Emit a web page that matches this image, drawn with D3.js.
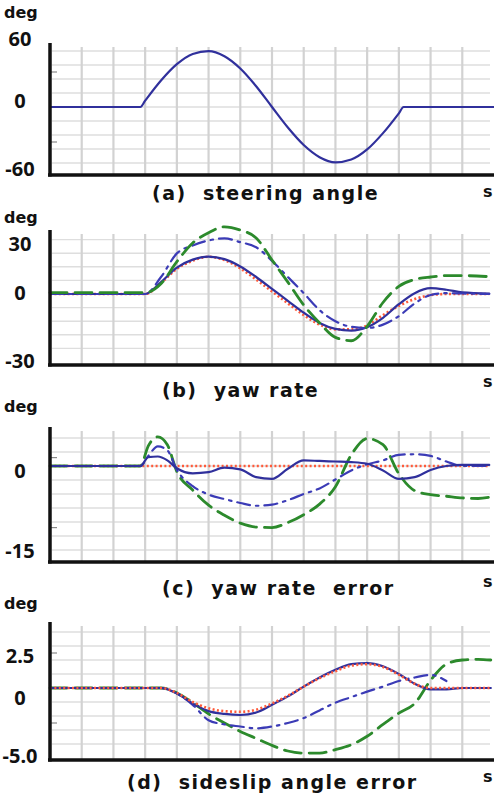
<!DOCTYPE html>
<html>
<head>
<meta charset="utf-8">
<script src="https://cdn.jsdelivr.net/npm/d3@7"></script>
<style>
  body { margin: 0; background: #fff; }
  svg { display: block; font-family: "DejaVu Sans", "Noto Sans", sans-serif; font-weight: bold; }
</style>
</head>
<body>
<svg id="chart" width="494" height="794"></svg>
<script>
// time grid (s), same for all four panels
var timeGrid = [1, 2, 3, 4, 5, 6, 7, 8, 9, 10, 11, 12, 13];

// (a) steering angle, deg
var steerTime = [0, 2.85, 3, 3.5, 4, 4.5, 5, 5.5, 6, 6.5, 7, 7.5, 8, 8.5, 9, 9.5, 10, 10.5, 11, 11.15, 14];
var steerAngle = [0, 0, 5.4, 22.7, 36.7, 45.5, 47.9, 43.5, 33, 17.8, 0, -17.6, -32.6, -43, -47.4, -45, -36.4, -22.4, -5.4, 0, 0];

// (b) yaw rate, deg/s
var yawTime = [0, 3, 3.5, 4, 4.5, 5, 5.5, 6, 6.5, 7, 7.5, 8, 8.5, 9, 9.5, 10, 10.5, 11, 11.5, 12, 12.5, 13, 13.85];
var yawRef = [0, 0, 6.5, 14.8, 19.6, 21.9, 20, 15.1, 8.5, 1.5, -5.5, -12.4, -18, -20.8, -20.8, -18.5, -12.4, -7, -3, -0.7, 0, 0, 0];
var yawSolid = [0, 0, 7, 15.5, 20.2, 22, 20.5, 16.2, 10, 3, -4, -11, -17, -20.5, -21.5, -19.5, -14, -6, 0.5, 3.4, 2.5, 1, 0.3];
var yawDashDot = [0, 0, 10, 23.9, 28.5, 31.5, 32.7, 30.5, 27.5, 19.5, 10, 0.5, -9.5, -16, -19.3, -20, -18, -13, -5.5, -0.6, 0.5, 0.3, 0];
var yawDashed = [0.8, 0.8, 6, 19, 30, 36, 39.5, 37.6, 33, 20, 7, -6.5, -17, -25.5, -27.5, -19, -5, 4.5, 8.5, 10, 10.8, 10.8, 10.2];

// (c) yaw rate error, deg/s
var errTime = [0, 2.85, 3.1, 3.4, 3.7, 4, 4.5, 5, 5.5, 6, 6.5, 7, 7.5, 8, 8.5, 9, 9.5, 10, 10.5, 11, 11.5, 12, 12.5, 13, 13.5, 13.85];
var errRef = [0, 0, 0, 0, 0, 0, 0, 0, 0, 0, 0, 0, 0, 0, 0, 0, 0, 0, 0, 0, 0, 0, 0, 0, 0, 0];
var errSolid = [0, 0, 1.6, 1.7, 1.0, -0.4, -1.3, -1.1, -0.3, -0.6, -2.0, -2.3, -0.5, 1.0, 0.9, 0.8, 0.7, 0.4, -0.8, -2.3, -2.0, -0.7, 0, 0.2, 0.2, 0.2];
var errDashDot = [0, 0, 1.8, 3.5, 2.8, -0.7, -3.6, -5.1, -5.9, -6.6, -7.1, -6.9, -6.1, -5.0, -4.0, -2.4, -0.8, 0.3, 1.0, 2.0, 2.1, 1.8, 0.8, 0, 0, 0];
var errDashed = [0, 0, 3.6, 5.2, 3.8, -1.0, -4.3, -7.0, -8.8, -10.2, -10.9, -11.0, -10.1, -8.7, -6.8, -3.7, 2.0, 4.9, 3.8, -1.4, -4.4, -5.1, -5.4, -5.7, -5.8, -5.6];

// (d) sideslip angle error, deg
var slipTime = [0, 3.5, 4, 4.5, 5, 5.5, 6, 6.5, 7, 7.5, 8, 8.5, 9, 9.5, 10, 10.5, 11, 11.5, 12, 12.5, 13, 13.5, 13.9];
var slipRef = [0, 0, -0.35, -1.0, -1.45, -1.65, -1.7, -1.55, -1.1, -0.55, 0.1, 0.7, 1.2, 1.6, 1.7, 1.5, 0.95, 0.3, 0, 0, 0, 0, 0];
var slipSolid = [0, 0, -0.4, -1.1, -1.65, -1.85, -1.93, -1.75, -1.2, -0.6, 0.1, 0.75, 1.3, 1.7, 1.78, 1.55, 1.0, 0.3, -0.1, -0.1, 0, 0, 0];
var slipDashDot = [0, 0, -0.4, -1.2, -2.3, -2.6, -2.75, -2.88, -2.75, -2.5, -2.15, -1.6, -1.05, -0.65, -0.26, 0.1, 0.5, 0.75, 0.93, 0.5, null, null, null];
var slipDashed = [0, 0, -0.35, -1.05, -1.85, -2.5, -3.1, -3.6, -4.1, -4.5, -4.65, -4.65, -4.4, -4.05, -3.45, -2.6, -1.8, -1.1, 0.55, 1.7, 2.0, 2.05, 2.0];

// y tick labels
var ticksA = [60, 0, -60], labelsA = ["60", "0", "-60"];
var ticksB = [30, 0, -30], labelsB = ["30", "0", "-30"];
var ticksC = [0, -15], labelsC = ["0", "-15"];
var ticksD = [2.5, 0, -5], labelsD = ["2.5", "0", "-5.0"];

var lineStyles = {
  ref:     { color: "#ff5a3a", width: 2.6, dash: "2,2.4" },
  solid:   { color: "#30309c", width: 2.2, dash: null },
  dashdot: { color: "#3b3bb6", width: 2.2, dash: "13,6,2.5,6" },
  dashed:  { color: "#2c8a2c", width: 2.8, dash: "17,8" }
};

var panels = [
  { top: 43, bottom: 175, domain: [-60, 60], range: [177, 37], grid: 12, minor: [30, -30],
    ticks: ticksA, labels: labelsA, shift: [1, -7, -9], degY: 18, sY: 197,
    caption: "(a)  steering angle", capX: 152, capY: 200,
    time: steerTime, series: [[steerAngle, "solid"]] },
  { top: 230, bottom: 365, domain: [-30, 30], range: [345, 243], grid: 8, minor: [],
    ticks: ticksB, labels: labelsB, shift: [0, -2, 15], degY: 223, sY: 387,
    caption: "(b)  yaw rate", capX: 162, capY: 397,
    time: yawTime, series: [[yawRef, "ref"], [yawSolid, "solid"], [yawDashDot, "dashdot"], [yawDashed, "dashed"]] },
  { top: 427, bottom: 562, domain: [-15, 0], range: [550, 466], grid: 2.5, minor: [1.5, -11],
    ticks: ticksC, labels: labelsC, shift: [4, 0], degY: 412, sY: 587,
    caption: "(c)  yaw rate  error", capX: 162, capY: 595,
    time: errTime, series: [[errRef, "ref"], [errDashed, "dashed"], [errDashDot, "dashdot"], [errSolid, "solid"]] },
  { top: 622, bottom: 760, domain: [-5, 2.5], range: [758, 653], grid: 1, minor: [2.5, -2.5],
    ticks: ticksD, labels: labelsD, shift: [2, 9, -3], degY: 609, sY: 782,
    caption: "(d)  sideslip angle error", capX: 127, capY: 789,
    time: slipTime, series: [[slipDashed, "dashed"], [slipDashDot, "dashdot"], [slipSolid, "solid"], [slipRef, "ref"]] }
];

var svg = d3.select("#chart");
var xScale = d3.scaleLinear().domain([0, 14]).range([50, 494]);

panels.forEach(function(p) {
  var yScale = d3.scaleLinear().domain(p.domain).range(p.range);
  var g = svg.append("g");

  // horizontal grid
  var vLo = yScale.invert(p.bottom - 4), vHi = yScale.invert(p.top + 4);
  var hLines = d3.range(Math.ceil(vLo / p.grid) * p.grid, vHi, p.grid);
  g.selectAll(".hgrid").data(hLines).enter().append("line")
    .attr("x1", 52).attr("x2", 490)
    .attr("y1", d => yScale(d)).attr("y2", d => yScale(d))
    .attr("stroke", "#dedede").attr("stroke-width", 1.4);

  // vertical grid
  g.selectAll(".vgrid").data(timeGrid).enter().append("line")
    .attr("x1", d => xScale(d)).attr("x2", d => xScale(d))
    .attr("y1", p.top + 4).attr("y2", p.bottom)
    .attr("stroke", "#d2d2d2").attr("stroke-width", 2.2);

  // minor ticks on the y axis
  g.selectAll(".minor").data(p.minor).enter().append("line")
    .attr("x1", 51).attr("x2", 57)
    .attr("y1", d => yScale(d)).attr("y2", d => yScale(d))
    .attr("stroke", "#888").attr("stroke-width", 1.2);

  // curves
  p.series.forEach(function(s) {
    var st = lineStyles[s[1]];
    var pts = p.time.map((t, i) => ({ t: t, v: s[0][i] }));
    var line = d3.line()
      .defined(d => d.v != null)
      .x(d => xScale(d.t))
      .y(d => yScale(d.v))
      .curve(d3.curveMonotoneX);
    g.append("path")
      .datum(pts)
      .attr("d", line)
      .attr("fill", "none")
      .attr("stroke", st.color)
      .attr("stroke-width", st.width)
      .attr("stroke-dasharray", st.dash)
      .attr("stroke-linecap", s[1] == "ref" ? "butt" : "round");
  });

  // axes lines
  g.append("line").attr("x1", 50).attr("x2", 50).attr("y1", p.top).attr("y2", p.bottom + 1.5)
    .attr("stroke", "#111").attr("stroke-width", 3.5);
  g.append("line").attr("x1", 48).attr("x2", 494).attr("y1", p.bottom).attr("y2", p.bottom)
    .attr("stroke", "#111").attr("stroke-width", 3.5);

  // tick labels
  var yAxis = d3.axisLeft(yScale)
    .tickValues(p.ticks)
    .tickFormat((d, i) => p.labels[i])
    .tickSize(0);
  var ax = g.append("g").attr("transform", "translate(34,0)").call(yAxis);
  ax.select(".domain").remove();
  ax.selectAll("text")
    .attr("x", 0)
    .attr("dy", (d, i) => (p.shift[i] + 7) + "px")
    .attr("text-anchor", "middle")
    .attr("transform", "translate(-14,0)")
    .style("font-family", "\"Noto Sans\", sans-serif")
    .style("font-weight", "bold")
    .style("font-size", "20px")
    .attr("fill", "#111");

  g.append("text").attr("x", 4).attr("y", p.degY).text("deg")
    .style("font-size", "16px").attr("fill", "#111");
  g.append("text").attr("x", 483).attr("y", p.sY).text("s")
    .style("font-size", "16px").attr("fill", "#111");
  g.append("text").attr("x", p.capX).attr("y", p.capY).text(p.caption)
    .style("font-size", "19px").attr("fill", "#111")
    .style("letter-spacing", "1.5px").style("white-space", "pre");
});
</script>
</body>
</html>
